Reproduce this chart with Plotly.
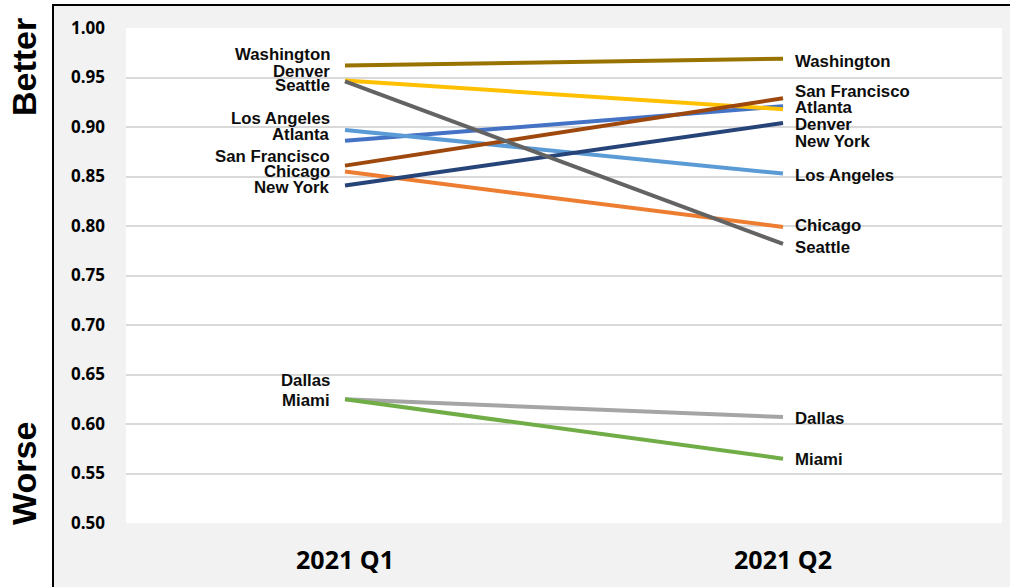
import plotly.graph_objects as go

periods = ["2021 Q1", "2021 Q2"]
cities = ["Atlanta", "Chicago", "Dallas", "Denver", "Los Angeles", "Miami",
          "New York", "San Francisco", "Seattle", "Washington"]
q1_values = [0.886, 0.855, 0.625, 0.947, 0.897, 0.625, 0.841, 0.861, 0.946, 0.962]
q2_values = [0.921, 0.799, 0.607, 0.918, 0.853, 0.565, 0.904, 0.929, 0.782, 0.969]
y_ticks = [0.50, 0.55, 0.60, 0.65, 0.70, 0.75, 0.80, 0.85, 0.90, 0.95, 1.00]

# styles
colors = ["#4472C4", "#ED7D31", "#A5A5A5", "#FFC000", "#5B9BD5", "#70AD47",
          "#264478", "#9E480E", "#636363", "#997300"]
left_shift = {"Atlanta": 6, "Chicago": 0, "Dallas": 19, "Denver": 9, "Los Angeles": 11,
              "Miami": -1, "New York": -2, "San Francisco": 9, "Seattle": -4, "Washington": 11}
right_shift = {"Atlanta": -1, "Chicago": 1, "Dallas": -1, "Denver": -15, "Los Angeles": -2,
               "Miami": -1, "New York": -18, "San Francisco": 7, "Seattle": -4, "Washington": -3}

W, H = 1010, 587
ML, MR, MT, MB = 126, 8, 28, 64
PW, PH = W - ML - MR, H - MT - MB

fig = go.Figure()
label_font = dict(family="Liberation Sans, Arial", size=16.8, color="#0d0d0d", weight="bold")
for i, c in enumerate(cities):
    fig.add_trace(go.Scatter(x=periods, y=[q1_values[i], q2_values[i]], mode="lines",
                             name=c, line=dict(color=colors[i], width=4),
                             showlegend=False, hoverinfo="skip"))
    fig.add_annotation(x=periods[0], y=q1_values[i], text=c, showarrow=False,
                       xanchor="right", yanchor="middle", xshift=-13, yshift=left_shift[c],
                       font=label_font)
    fig.add_annotation(x=periods[1], y=q2_values[i], text=c, showarrow=False,
                       xanchor="left", yanchor="middle", xshift=10, yshift=right_shift[c],
                       font=label_font)

def px_x(p):
    return (p - ML) / PW

def px_y(p):
    return (H - MB - p) / PH

fig.add_shape(type="rect", xref="paper", yref="paper",
              x0=px_x(53), x1=px_x(1100), y0=px_y(700), y1=px_y(5),
              fillcolor="#f2f2f2", line=dict(color="black", width=2), layer="below")
fig.add_shape(type="rect", xref="paper", yref="paper", x0=0, x1=1, y0=0, y1=1,
              fillcolor="white", line=dict(width=0), layer="below")

side_font = dict(family="Liberation Sans, Arial", size=34, color="black", weight="bold")
fig.add_annotation(xref="paper", yref="paper", x=px_x(24), y=px_y(67), text="Better",
                   textangle=-90, showarrow=False, font=side_font,
                   xanchor="center", yanchor="middle")
fig.add_annotation(xref="paper", yref="paper", x=px_x(24), y=px_y(474), text="Worse",
                   textangle=-90, showarrow=False, font=side_font,
                   xanchor="center", yanchor="middle")

fig.update_layout(
    width=W, height=H,
    margin=dict(l=ML, r=MR, t=MT, b=MB, pad=0),
    paper_bgcolor="white", plot_bgcolor="white",
    xaxis=dict(type="category", range=[-0.5, 1.5], showgrid=False, zeroline=False,
               showline=False, ticks="", ticklabelstandoff=20,
               tickfont=dict(family="Open Sans", size=25, color="black", weight="bold")),
    yaxis=dict(range=[0.5, 1.0], tickvals=y_ticks, tickformat=".2f",
               showgrid=True, gridcolor="#d9d9d9", gridwidth=2, zeroline=False,
               showline=False, ticks="", ticklabelstandoff=20,
               tickfont=dict(family="Open Sans", size=17, color="black", weight="bold")),
)

fig.write_html("out.html", config={"displayModeBar": False},
               post_script="document.body.style.margin='0';")
